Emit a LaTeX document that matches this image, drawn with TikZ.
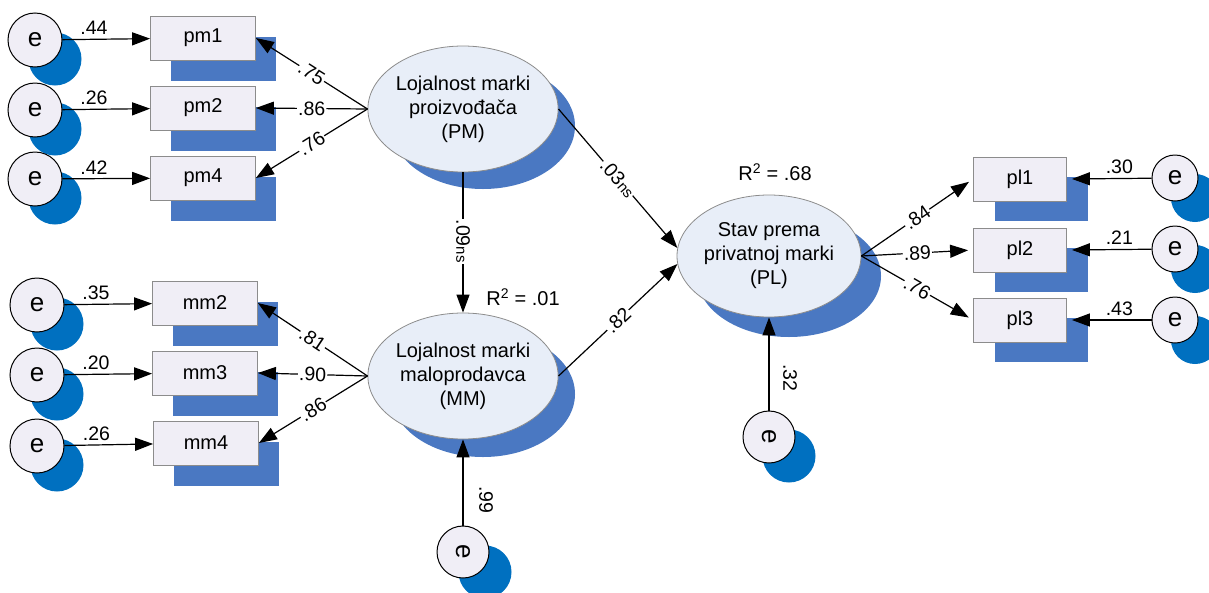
\documentclass[tikz,border=0pt]{standalone}
\usepackage{fontspec}
\setmainfont{Liberation Sans}
\usetikzlibrary{arrows.meta,shapes.geometric}
\definecolor{boxfill}{HTML}{F0EEF6}
\definecolor{latfill}{HTML}{E8EEF8}
\definecolor{shadeblue}{HTML}{4A78C2}
\definecolor{errblue}{HTML}{0070C0}
\definecolor{boxline}{HTML}{8C8C8C}
\begin{document}
\begin{tikzpicture}[x=1pt,y=-1pt,
  txt/.style={font=\fontsize{20}{24}\selectfont},
  obs/.style={rectangle, draw=boxline, line width=0.8pt, fill=boxfill, minimum width=105, minimum height=44, inner sep=0pt, txt},
  obsR/.style={obs, minimum width=93},
  obsshade/.style={rectangle, fill=shadeblue, minimum width=105, minimum height=44, inner sep=0pt},
  obsshadeR/.style={obsshade, minimum width=93},
  lat/.style={ellipse, draw=boxline, line width=0.8pt, fill=latfill, minimum width=184, minimum height=126, inner sep=0pt, align=center, txt},
  latshade/.style={ellipse, fill=shadeblue, minimum width=184, minimum height=126, inner sep=0pt},
  err/.style={circle, draw=black, line width=1pt, fill=boxfill, minimum size=54, inner sep=0pt, font=\fontsize{26}{26}\selectfont},
  errR/.style={err, minimum size=46},
  errshade/.style={circle, fill=errblue, minimum size=53, inner sep=0pt},
  arr/.style={-{Triangle[length=18pt,width=13pt]}, line width=1.2pt},
  coef/.style={font=\fontsize{19.5}{20}\selectfont, inner sep=1pt},
  oncoef/.style={coef, sloped, fill=white}]
\useasboundingbox (0,0) rectangle (1209,592);

% ---- shadows ----
\foreach \n/\x/\y in {s1/203/38, s2/203/108, s4/203/178, s5/205/303, s6/205/373, s7/206/443}
  \node[obsshade] (\n) at (\x+20,\y+21) {};
\foreach \n/\y in {r1/179, r2/250, r3/320}
  \node[obsshadeR] (\n) at (1020+21,\y+20) {};
\node[latshade] (PMs) at (483,126) {};
\node[latshade] (MMs) at (483,394) {};
\node[latshade, minimum height=122] (PLs) at (789,276) {};
\foreach \n/\x/\y in {c1/35/40, c2/35/110, c3/35/179, c5/37/305, c6/37/375, c7/37/446}
  \node[errshade] (\n) at (\x+20,\y+19) {};
\foreach \n/\y in {c8/178, c9/249, c10/320}
  \node[errshade, minimum size=48] (\n) at (1195,\y+20) {};
\node[errshade] (cMM) at (485,572) {};
\node[errshade] (cPL) at (789,456) {};

% ---- indicators ----
\node[obs] (pm1) at (203,38) {pm1};
\node[obs] (pm2) at (203,108) {pm2};
\node[obs] (pm4) at (203,178) {pm4};
\node[obs] (mm2) at (205,303) {mm2};
\node[obs] (mm3) at (205,373) {mm3};
\node[obs] (mm4) at (206,443) {mm4};
\node[obsR] (pl1) at (1020,179) {pl1};
\node[obsR] (pl2) at (1020,250) {pl2};
\node[obsR] (pl3) at (1020,320) {pl3};

% ---- latent variables ----
\node[lat] (PM) at (463,109) {Lojalnost marki\\proizvođača\\(PM)};
\node[lat] (MM) at (463,376) {Lojalnost marki\\maloprodavca\\(MM)};
\node[lat, minimum height=122] (PL) at (769,256) {Stav prema\\privatnoj marki\\(PL)};

% ---- error terms ----
\node[err] (e1) at (35,40) {e};
\node[err] (e2) at (35,110) {e};
\node[err] (e4) at (35,179) {e};
\node[err] (e5) at (37,305) {e};
\node[err] (e6) at (37,375) {e};
\node[err] (e7) at (37,446) {e};
\node[errR] (e8) at (1175,178) {e};
\node[errR] (e9) at (1175,249) {e};
\node[errR] (e10) at (1175,320) {e};
\node[err, minimum size=52, rotate=-90] (eMM) at (463,552) {e};
\node[err, minimum size=52, rotate=-90] (ePL) at (769,437) {e};

% ---- error paths ----
\foreach \e/\b/\v in {e1/pm1/.44, e2/pm2/.26, e4/pm4/.42, e5/mm2/.35, e6/mm3/.20, e7/mm4/.26}
  \draw[arr] (\e) -- (\b) node[coef, pos=0.36, above=3pt] {\v};
\foreach \e/\b/\v in {e8/pl1/.30, e9/pl2/.21, e10/pl3/.43}
  \draw[arr, shorten >=5pt] (\e) -- (\b.east) node[coef, pos=0.38, above=3pt] {\v};
\draw[arr] (eMM.west) -- (MM.south) node[coef, pos=0.3, xshift=23, rotate=-90] {.99};
\draw[arr] (ePL.west) -- (PL.south) node[coef, pos=0.35, xshift=21, rotate=-90] {.32};

% ---- loadings ----
\foreach \b/\v in {pm1/.75, pm2/.86, pm4/.76}
  \draw[arr] (PM.west) -- (\b.east) node[oncoef, pos=0.5] {\v};
\foreach \b/\v in {mm2/.81, mm3/.90, mm4/.86}
  \draw[arr] (MM.west) -- (\b.east) node[oncoef, pos=0.5] {\v};
\foreach \b/\v in {pl1/.84, pl2/.89, pl3/.76}
  \draw[arr, shorten >=5pt] (PL.east) -- (\b.west) node[oncoef, pos=0.5] {\v};

% ---- structural paths ----
\draw[arr] (PM.south) -- (MM.north)
  node[coef, fill=white, pos=0.49, rotate=-90] {.09{\fontsize{15}{15}\selectfont ns}};
\draw[arr] (PM.east) -- (PL.175)
  node[oncoef, pos=0.5] {.03{\fontsize{15}{15}\selectfont ns}};
\draw[arr] (MM.east) -- (PL.185) node[oncoef, pos=0.5] {.82};

% ---- explained variance ----
\node[txt] (r2MM) at (523,297) {R\textsuperscript{2} = .01};
\node[txt] (r2PL) at (775,172) {R\textsuperscript{2} = .68};
\end{tikzpicture}
\end{document}
